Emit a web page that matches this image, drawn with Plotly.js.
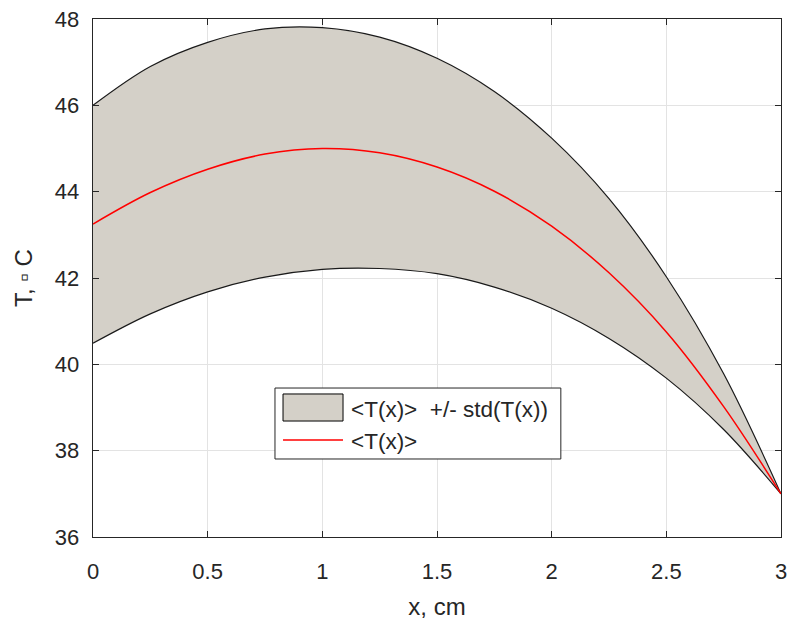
<!DOCTYPE html>
<html>
<head>
<meta charset="utf-8">
<script src="https://cdn.plot.ly/plotly-3.0.1.min.js"></script>
<style>html,body{margin:0;padding:0;background:#fff;}#chart{width:791px;height:625px;}</style>
</head>
<body>
<div id="chart"></div>
<script>
// Data
const xPos = [0, 0.25, 0.5, 0.75, 1.0, 1.25, 1.5, 1.75, 2.0, 2.25, 2.5, 2.75, 3.0];
const tUpper = [46.0, 46.9, 47.46, 47.77, 47.8, 47.58, 47.09, 46.32, 45.24, 43.84, 42.03, 39.78, 37.0];
const tMean  = [43.25, 43.98, 44.52, 44.87, 45.0, 44.9, 44.57, 44.01, 43.2, 42.12, 40.75, 39.02, 37.0];
const tLower = [40.49, 41.17, 41.68, 42.02, 42.2, 42.22, 42.1, 41.79, 41.3, 40.6, 39.68, 38.49, 37.0];
const xTicks = [0, 0.5, 1, 1.5, 2, 2.5, 3];
const xTickText = ['0', '0.5', '1', '1.5', '2', '2.5', '3'];
const yTicks = [36, 38, 40, 42, 44, 46, 48];
const legendLabels = ['<T(x)>  +/- std(T(x))', '<T(x)>'];

const fillColor = '#d4d0c8';
const ink = '#262626';
const fam = 'Liberation Sans, Arial, sans-serif';

const traces = [
  {x: xPos, y: tLower, type: 'scatter', mode: 'lines',
   line: {color: '#1a1a1a', width: 1.2, shape: 'spline', smoothing: 1}, showlegend: false, hoverinfo: 'skip'},
  {x: xPos, y: tUpper, type: 'scatter', mode: 'lines', fill: 'tonexty', fillcolor: fillColor,
   line: {color: '#1a1a1a', width: 1.2, shape: 'spline', smoothing: 1}, showlegend: false, name: legendLabels[0]},
  {x: xPos, y: tMean, type: 'scatter', mode: 'lines',
   line: {color: '#ff0000', width: 1.5, shape: 'spline', smoothing: 1}, showlegend: false, name: legendLabels[1]}
];

function esc(s) { return s.replace(/</g, '&lt;').replace(/>/g, '&gt;').replace(/  /g, ' \u00a0'); }

// legend drawn as a MATLAB-style box (paper coordinates)
const shapes = [
  {type: 'rect', xref: 'paper', yref: 'paper', x0: 0.2645, x1: 0.680, y0: 0.1506, y1: 0.2876,
   fillcolor: '#ffffff', line: {color: ink, width: 1}},
  {type: 'rect', xref: 'paper', yref: 'paper', x0: 0.2762, x1: 0.3634, y0: 0.2239, y1: 0.2761,
   fillcolor: fillColor, line: {color: '#000000', width: 1}},
  {type: 'line', xref: 'paper', yref: 'paper', x0: 0.2762, x1: 0.3634, y0: 0.1873, y1: 0.1873,
   line: {color: '#ff0000', width: 1.5}}
];
const annotations = [
  {xref: 'paper', yref: 'paper', x: 0.3721, y: 0.2471, xanchor: 'left', yanchor: 'middle',
   text: esc(legendLabels[0]), showarrow: false, font: {family: fam, size: 22.5, color: ink}},
  {xref: 'paper', yref: 'paper', x: 0.3721, y: 0.1853, xanchor: 'left', yanchor: 'middle',
   text: esc(legendLabels[1]), showarrow: false, font: {family: fam, size: 22.5, color: ink}}
];

const axisCommon = {
  showline: true, linecolor: ink, linewidth: 1.3, mirror: 'ticks',
  ticks: 'inside', ticklen: 6, tickwidth: 1, tickcolor: ink,
  showgrid: true, gridcolor: '#e3e3e3', gridwidth: 1, zeroline: false,
  tickfont: {family: fam, size: 22, color: ink}
};

const layout = {
  width: 791, height: 625,
  margin: {l: 93, r: 10, t: 19, b: 88},
  paper_bgcolor: '#ffffff', plot_bgcolor: '#ffffff',
  showlegend: false,
  xaxis: Object.assign({}, axisCommon, {
    range: [0, 3], tickvals: xTicks, ticktext: xTickText, ticklabelstandoff: 14,
    title: {text: 'x, cm', standoff: 15, font: {family: fam, size: 24, color: ink}}
  }),
  yaxis: Object.assign({}, axisCommon, {
    range: [36, 48], tickvals: yTicks, ticklabelstandoff: 8,
    title: {text: 'T, \u25AB C', standoff: 15, font: {family: fam, size: 24, color: ink}}
  }),
  shapes: shapes,
  annotations: annotations
};

Plotly.newPlot('chart', traces, layout, {displayModeBar: false, staticPlot: true});
</script>
</body>
</html>
